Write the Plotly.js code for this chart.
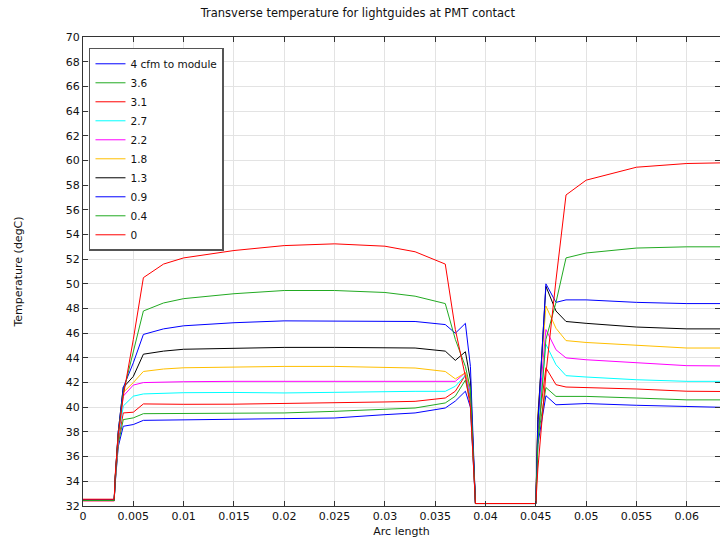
<!DOCTYPE html>
<html>
<head>
<meta charset="utf-8">
<script src="https://cdn.plot.ly/plotly-3.0.1.min.js"></script>
<style>html,body{margin:0;padding:0;background:#fff;}#chart{width:720px;height:542px;}</style>
</head>
<body>
<div id="chart"></div>
<script>
// Arc length nodes
const arcLength = [0, 0.0031, 0.0032, 0.0035, 0.004, 0.005, 0.006, 0.008, 0.01, 0.015, 0.02, 0.025, 0.03, 0.033, 0.036, 0.037, 0.038, 0.0385, 0.039, 0.045, 0.0452, 0.046, 0.047, 0.048, 0.05, 0.055, 0.06, 0.0633];

const seriesNames = ["4 cfm to module", "3.6", "3.1", "2.7", "2.2", "1.8", "1.3", "0.9", "0.4", "0"];
const seriesColors = ["#0000ff", "#22aa22", "#ff0000", "#00ffff", "#ff00ff", "#ffbf00", "#000000", "#0000ff", "#22aa22", "#ff0000"];

const temp_4 =   [32.5, 32.5, 33.8, 36.8, 38.46, 38.6, 38.94, 38.96, 38.97, 39.0, 39.05, 39.13, 39.4, 39.54, 39.94, 40.5, 41.3, 40.0, 32.2, 32.2, 37.0, 40.94, 40.2, 40.25, 40.3, 40.16, 40.03, 40.0];
const temp_3_6 = [32.45, 32.45, 33.9, 37.0, 39.0, 39.14, 39.48, 39.48, 39.48, 39.5, 39.54, 39.67, 39.81, 39.94, 40.35, 40.9, 42.2, 40.5, 32.2, 32.2, 37.5, 41.6, 40.88, 40.88, 40.88, 40.75, 40.6, 40.6];
const temp_3_1 = [32.5, 32.5, 34.0, 37.3, 39.54, 39.6, 40.27, 40.25, 40.24, 40.25, 40.29, 40.35, 40.43, 40.48, 40.75, 41.3, 42.6, 40.8, 32.2, 32.2, 38.0, 43.2, 41.83, 41.64, 41.6, 41.48, 41.3, 41.28];
const temp_2_7 = [32.45, 32.45, 34.2, 37.5, 40.1, 40.9, 41.08, 41.15, 41.18, 41.2, 41.16, 41.21, 41.29, 41.29, 41.29, 41.7, 42.6, 41.0, 32.2, 32.2, 38.5, 45.1, 43.45, 42.56, 42.45, 42.23, 42.1, 42.1];
const temp_2_2 = [32.4, 32.4, 34.2, 37.6, 40.9, 41.8, 42.0, 42.05, 42.07, 42.1, 42.1, 42.1, 42.1, 42.1, 42.1, 42.1, 42.8, 41.2, 32.2, 32.2, 39.0, 46.3, 44.66, 44.0, 43.85, 43.6, 43.37, 43.35];
const temp_1_8 = [32.42, 32.42, 34.2, 37.8, 41.2, 42.0, 42.9, 43.1, 43.2, 43.28, 43.31, 43.31, 43.26, 43.18, 42.9, 42.3, 42.8, 41.5, 32.2, 32.2, 39.5, 48.2, 46.4, 45.4, 45.25, 45.0, 44.8, 44.8];
const temp_1_3 = [32.45, 32.45, 34.3, 38.0, 41.6, 42.5, 44.3, 44.55, 44.7, 44.8, 44.85, 44.85, 44.85, 44.8, 44.55, 43.8, 44.5, 42.2, 32.2, 32.2, 39.0, 49.8, 47.8, 46.95, 46.8, 46.5, 46.35, 46.35];
const temp_0_9 = [32.5, 32.5, 34.3, 38.0, 41.6, 43.6, 45.9, 46.35, 46.6, 46.85, 47.0, 47.0, 47.0, 46.95, 46.7, 46.0, 46.8, 43.3, 32.2, 32.2, 38.7, 50.0, 48.5, 48.7, 48.7, 48.5, 48.4, 48.4];
const temp_0_4 = [32.45, 32.45, 34.3, 37.8, 41.2, 44.5, 47.8, 48.45, 48.8, 49.2, 49.46, 49.46, 49.3, 49.0, 48.4, 45.5, 43.3, 41.5, 32.2, 32.2, 37.0, 45.5, 48.5, 52.1, 52.5, 52.9, 53.0, 53.0];
const temp_0 =   [32.55, 32.55, 34.5, 37.8, 40.9, 45.5, 50.5, 51.6, 52.1, 52.7, 53.1, 53.24, 53.05, 52.6, 51.6, 46.3, 42.5, 40.0, 32.2, 32.2, 35.0, 42.7, 50.3, 57.2, 58.4, 59.45, 59.75, 59.8];

const seriesValues = [temp_4, temp_3_6, temp_3_1, temp_2_7, temp_2_2, temp_1_8, temp_1_3, temp_0_9, temp_0_4, temp_0];

const traces = seriesValues.map((ys, i) => ({
  x: arcLength,
  y: ys,
  type: "scatter",
  mode: "lines",
  name: seriesNames[i],
  line: {color: seriesColors[i], width: 1}
}));

const fontFam = "DejaVu Sans, sans-serif";
const layout = {
  width: 720,
  height: 542,
  margin: {l: 83, r: 0, t: 37, b: 36},
  paper_bgcolor: "#ffffff",
  plot_bgcolor: "#ffffff",
  font: {family: fontFam, size: 11, color: "#111"},
  title: {text: "Transverse temperature for lightguides at PMT contact", font: {family: fontFam, size: 11.5, color: "#111"}, x: 0.497, xref: "container", xanchor: "center", y: 0.976, yref: "container", yanchor: "middle"},
  showlegend: true,
  legend: {x: 0.0094, y: 0.977, xanchor: "left", yanchor: "top", bgcolor: "#ffffff", bordercolor: "#555555", borderwidth: 1.5, itemwidth: 30, font: {family: fontFam, size: 10.5, color: "#111"}, tracegroupgap: 0},
  xaxis: {
    range: [0, 0.0633], tick0: 0, dtick: 0.005, ticks: "inside", ticklen: 5, tickcolor: "#333",
    showline: true, linecolor: "#333", linewidth: 1, mirror: "ticks",
    showgrid: true, gridcolor: "#e3e3e3", gridwidth: 1, zeroline: false,
    tickfont: {family: fontFam, size: 11, color: "#111"},
    title: {text: "Arc length", font: {family: fontFam, size: 11, color: "#111"}, standoff: 5}
  },
  yaxis: {
    range: [32, 70], tick0: 32, dtick: 2, ticks: "inside", ticklen: 5, tickcolor: "#333",
    showline: true, linecolor: "#333", linewidth: 1, mirror: "ticks",
    showgrid: true, gridcolor: "#e3e3e3", gridwidth: 1, zeroline: false,
    tickfont: {family: fontFam, size: 11, color: "#111"},
    title: {text: "Temperature (degC)", font: {family: fontFam, size: 11, color: "#111"}, standoff: 40}
  }
};

Plotly.newPlot("chart", traces, layout, {displayModeBar: false, staticPlot: true});
</script>
</body>
</html>
